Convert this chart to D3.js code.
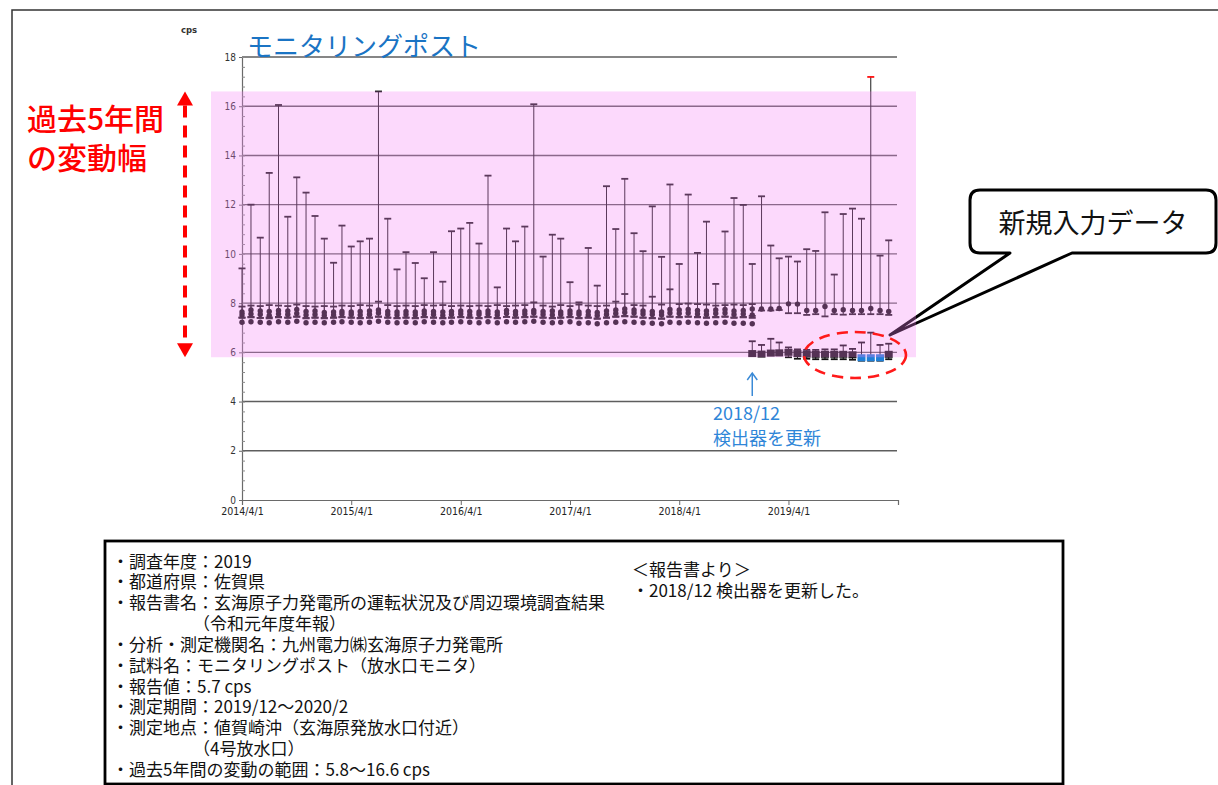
<!DOCTYPE html>
<html>
<head>
<meta charset="utf-8">
<script src="https://cdn.jsdelivr.net/npm/d3@7"></script>
<style>
  html, body { margin: 0; padding: 0; background: #fff; }
  svg { display: block; }
</style>
</head>
<body>
<svg id="chart" width="1218" height="785"></svg>
<script>
// ---------- data ----------
// monthly records, April 2014 through March 2020 (72 months)
const firstMonth = new Date(2014, 3, 1);
const endMonth = new Date(2020, 3, 1);

// monitoring post (main): monthly max / mean / min, cps
const maxMain = [9.41,12.00,10.66,13.29,16.05,11.51,13.11,12.49,11.54,10.62,9.64,11.15,10.30,10.51,10.62,16.60,11.43,9.37,10.07,
  9.63,9.01,10.07,8.87,10.92,11.03,11.26,10.42,13.18,8.64,11.03,10.51,11.11,16.08,9.89,10.78,10.62,8.85,
  8.03,10.24,8.71,12.75,11.01,13.05,10.84,10.11,11.93,9.88,12.82,9.59,12.41,10.04,11.31,8.78,10.91,12.27,
  11.99,9.59,12.34,10.34,9.82,9.89,9.69,10.19,10.12,11.69,9.16,11.62,11.84,11.43,17.19,9.93,10.55];
const meanMain = [7.64,7.72,7.68,7.66,7.70,7.68,7.74,7.66,7.68,7.62,7.64,7.66,7.64,7.66,7.68,7.72,7.66,7.64,7.66,
  7.64,7.68,7.66,7.64,7.66,7.68,7.66,7.64,7.68,7.64,7.70,7.66,7.68,7.70,7.66,7.68,7.64,7.68,
  7.64,7.66,7.62,7.68,7.72,7.76,7.72,7.68,7.66,7.64,7.74,7.72,7.74,7.70,7.68,7.72,7.74,7.68,
  7.70,7.76,7.76,7.76,7.78,7.97,7.96,7.70,7.70,7.86,7.70,7.73,7.70,7.70,7.78,7.70,7.66];
const minMain = [7.42,7.44,7.40,7.42,7.44,7.42,7.46,7.40,7.42,7.40,7.42,7.44,7.42,7.40,7.42,7.46,7.42,7.40,7.42,
  7.40,7.44,7.42,7.40,7.42,7.44,7.42,7.40,7.44,7.40,7.44,7.42,7.44,7.46,7.42,7.40,7.42,7.44,
  7.40,7.42,7.38,7.42,7.46,7.48,7.46,7.42,7.40,7.38,7.46,7.44,7.46,7.44,7.42,7.44,7.46,7.42,
  7.44,7.48,7.70,7.70,7.72,7.59,7.59,7.52,7.55,7.46,7.55,7.53,7.55,7.55,7.55,7.55,7.52];

// second channel, April 2014 - December 2018 (57 months)
const maxSub = [7.86,7.90,7.88,7.92,7.90,7.88,7.94,7.88,7.86,7.88,7.86,7.90,7.88,7.92,7.90,8.06,7.92,7.88,7.90,
  7.88,7.92,7.90,7.92,7.88,7.90,7.88,7.90,7.88,7.92,7.88,7.90,7.92,8.03,7.90,7.86,7.92,7.88,
  7.94,7.90,7.88,7.90,8.06,8.37,7.92,7.90,8.26,7.94,8.56,7.96,7.98,7.96,7.94,7.90,7.92,7.94,7.92,7.96];
const meanSub = [7.52,7.56,7.54,7.50,7.56,7.54,7.58,7.52,7.54,7.50,7.52,7.56,7.54,7.52,7.54,7.60,7.54,7.52,7.54,
  7.52,7.56,7.54,7.50,7.54,7.56,7.52,7.54,7.56,7.52,7.58,7.54,7.56,7.60,7.54,7.52,7.54,7.56,
  7.54,7.52,7.50,7.54,7.58,7.62,7.60,7.56,7.54,7.52,7.60,7.58,7.60,7.56,7.54,7.58,7.60,7.54,7.56,7.52];
const minSub = [7.40,7.42,7.40,7.38,7.42,7.40,7.44,7.38,7.40,7.38,7.40,7.42,7.40,7.38,7.40,7.44,7.40,7.38,7.40,
  7.38,7.42,7.40,7.38,7.40,7.42,7.40,7.38,7.42,7.38,7.44,7.40,7.42,7.44,7.40,7.38,7.40,7.42,
  7.38,7.40,7.36,7.40,7.44,7.46,7.44,7.40,7.38,7.36,7.44,7.42,7.44,7.42,7.40,7.42,7.44,7.40,7.42,7.40];
// third channel mean, April 2014 - December 2018
const meanThird = [7.22,7.24,7.22,7.20,7.24,7.22,7.26,7.20,7.22,7.20,7.22,7.24,7.22,7.20,7.22,7.26,7.22,7.20,7.22,
  7.20,7.24,7.22,7.20,7.22,7.24,7.22,7.20,7.24,7.20,7.24,7.22,7.24,7.26,7.22,7.20,7.22,7.24,
  7.18,7.20,7.16,7.20,7.22,7.24,7.22,7.20,7.18,7.16,7.22,7.20,7.22,7.20,7.18,7.20,7.22,7.18,7.18,7.16];

// new detector, December 2018 - March 2020 (16 months)
const newStart = new Date(2018, 11, 1);
const newMax  = [6.45,6.30,6.55,6.40,6.20,6.12,6.10,6.10,6.12,6.12,6.28,6.14,6.40,6.80,6.30,6.35];
const newMean = [5.95,5.93,5.97,5.98,6.00,5.95,5.93,5.92,5.92,5.92,5.92,5.90,5.78,5.78,5.78,5.92];
const newMin  = [5.86,5.84,5.88,5.88,5.80,5.74,5.74,5.72,5.72,5.72,5.72,5.70,5.66,5.66,5.66,5.72];
const newInputMonths = ["2019-12", "2020-01", "2020-02"];

// past five-year range, cps
const pastRange = [5.8, 16.6];

// axis ticks
const yTicks = [0, 2, 4, 6, 8, 10, 12, 14, 16, 18];
const xTickLabels = ["2014/4/1", "2015/4/1", "2016/4/1", "2017/4/1", "2018/4/1", "2019/4/1"];

// info panel
const infoLines = [
  { t: "・調査年度：2019", indent: false },
  { t: "・都道府県：佐賀県", indent: false },
  { t: "・報告書名：玄海原子力発電所の運転状況及び周辺環境調査結果", indent: false },
  { t: "（令和元年度年報）", indent: true },
  { t: "・分析・測定機関名：九州電力㈱玄海原子力発電所", indent: false },
  { t: "・試料名：モニタリングポスト（放水口モニタ）", indent: false },
  { t: "・報告値：5.7 cps", indent: false },
  { t: "・測定期間：2019/12～2020/2", indent: false },
  { t: "・測定地点：値賀崎沖（玄海原発放水口付近）", indent: false },
  { t: "（4号放水口）", indent: true },
  { t: "・過去5年間の変動の範囲：5.8～16.6 cps", indent: false }
];
const reportNotes = ["＜報告書より＞", "・2018/12 検出器を更新した。"];

// ---------- drawing ----------
const JP = "'Noto Sans CJK JP', 'Noto Sans', sans-serif";
const COND = "'DejaVu Sans Condensed', 'DejaVu Sans', sans-serif";
const svg = d3.select("#chart");

svg.append("rect").attr("width", 1218).attr("height", 785).attr("fill", "#fff");
// page frame
svg.append("path").attr("d", "M12,786 V10 H1218")
  .attr("fill", "none").attr("stroke", "#333").attr("stroke-width", 1.5);

const x = d3.scaleTime().domain([firstMonth, endMonth]).range([242, 898]);
const y = d3.scaleLinear().domain([0, 18]).range([500, 57]);
const months = d3.timeMonth.range(firstMonth, endMonth);
const fmtMonth = d3.timeFormat("%Y-%m");

// gridlines
svg.append("g").selectAll("line").data(yTicks.filter(v => v > 0)).join("line")
  .attr("x1", 242).attr("x2", 897)
  .attr("y1", d => y(d)).attr("y2", d => y(d))
  .attr("stroke", "#5e5e5e").attr("stroke-width", 1.4);

// y axis with minor ticks
const gy = svg.append("g").attr("transform", "translate(242,0)")
  .call(d3.axisLeft(y).tickValues(yTicks).tickSize(3).tickPadding(3).tickSizeOuter(0));
gy.select(".domain").attr("stroke", "#6a6a6a").attr("stroke-width", 1.2);
gy.selectAll(".tick line").attr("stroke", "#6a6a6a");
gy.selectAll("text").attr("font-family", COND).attr("font-size", 10).attr("fill", "#333");
const gyMinor = svg.append("g").attr("transform", "translate(242,0)")
  .call(d3.axisRight(y).tickValues(d3.range(0, 18.001, 0.4)).tickSize(3).tickFormat(""));
gyMinor.select(".domain").remove();
gyMinor.selectAll(".tick line").attr("stroke", "#8a8a8a");

// x axis
const yearTicks = xTickLabels.map(s => d3.timeParse("%Y/%m/%d")(s));
const gx = svg.append("g").attr("transform", "translate(0,500)")
  .call(d3.axisBottom(x).tickValues(yearTicks).tickFormat((d, i) => xTickLabels[i])
    .tickSize(5).tickSizeOuter(5).tickPadding(3));
gx.select(".domain").attr("stroke", "#6a6a6a").attr("stroke-width", 1.2);
gx.selectAll(".tick line").attr("stroke", "#6a6a6a");
gx.selectAll("text").attr("font-family", COND).attr("font-size", 10.5).attr("fill", "#222");

// unit label and title
svg.append("text").attr("x", 181).attr("y", 30).attr("dominant-baseline", "central")
  .attr("font-family", "'DejaVu Sans', sans-serif").attr("font-size", 8.5).attr("font-weight", "bold")
  .attr("fill", "#333").text("cps");
svg.append("text").attr("x", 247).attr("y", 44).attr("dominant-baseline", "central")
  .attr("font-family", JP).attr("font-size", 26).attr("fill", "#1a74c4").text("モニタリングポスト");

// ---------- marks ----------
const marks = svg.append("g");
const CAP = 7;
const DOT = 2.7;

function rangeBars(g, data, color) {
  g.selectAll(null).data(data).join("line")
    .attr("x1", d => x(d.date)).attr("x2", d => x(d.date))
    .attr("y1", d => y(d.lo)).attr("y2", d => y(d.hi))
    .attr("stroke", color).attr("stroke-width", 1);
  g.selectAll(null).data(data.flatMap(d => [
      { date: d.date, v: d.hi, over: d.hi > pastRange[1] },
      { date: d.date, v: d.lo, over: false }]))
    .join("line")
    .attr("x1", d => x(d.date) - CAP / 2).attr("x2", d => x(d.date) + CAP / 2)
    .attr("y1", d => y(d.v)).attr("y2", d => y(d.v))
    .attr("stroke", d => d.over ? "#ff1010" : color).attr("stroke-width", 1.8);
}
function dots(g, data, color) {
  g.selectAll(null).data(data).join("circle")
    .attr("cx", d => x(d.date)).attr("cy", d => y(d.v)).attr("r", DOT).attr("fill", color);
}

const oldMonths = months.slice(0, meanSub.length);
const subData = oldMonths.map((m, i) => ({ date: m, lo: minSub[i], hi: maxSub[i], v: meanSub[i] }));
const thirdData = oldMonths.map((m, i) => ({ date: m, v: meanThird[i] }));
const mainData = months.map((m, i) => ({ date: m, lo: minMain[i], hi: maxMain[i], v: meanMain[i] }));

rangeBars(marks.append("g"), subData, "#1a1a1a");
rangeBars(marks.append("g"), mainData, "#1a1a1a");
dots(marks.append("g"), thirdData, "#111");
dots(marks.append("g"), subData, "#111");
dots(marks.append("g"), mainData, "#111");

// new detector series
const newMonths = d3.timeMonth.range(newStart, endMonth);
const newData = newMonths.map((m, i) => ({ date: m, lo: newMin[i], hi: newMax[i], v: newMean[i],
  fresh: newInputMonths.includes(fmtMonth(m)) }));
const gNew = marks.append("g");
rangeBars(gNew, newData, "#111");
gNew.selectAll("rect").data(newData).join("rect")
  .attr("x", d => x(d.date) - 4).attr("y", d => y(d.v) - 3.5)
  .attr("width", 8).attr("height", 7)
  .attr("fill", d => d.fresh ? "#1f7fd6" : "#111");

// callout bubble
svg.append("path")
  .attr("d", "M980,190 H1206 Q1216,190 1216,200 V243 Q1216,253 1206,253 H1072 L890,335 L1010,253 H980 Q970,253 970,243 V200 Q970,190 980,190 Z")
  .attr("fill", "#fff").attr("stroke", "#000").attr("stroke-width", 3).attr("stroke-linejoin", "round");
svg.append("text").attr("x", 1093).attr("y", 221).attr("text-anchor", "middle")
  .attr("dominant-baseline", "central").attr("font-family", JP).attr("font-size", 27)
  .attr("fill", "#111").text("新規入力データ");

// translucent band for the past five-year range
svg.append("rect")
  .attr("x", 211).attr("width", 916 - 211)
  .attr("y", y(pastRange[1])).attr("height", y(pastRange[0]) - y(pastRange[1]))
  .attr("fill", "rgb(245,128,245)").attr("fill-opacity", 0.3);

// dashed ellipse around the newly entered months
svg.append("ellipse").attr("cx", 855).attr("cy", 355).attr("rx", 51).attr("ry", 23)
  .attr("fill", "none").attr("stroke", "#ff1a1a").attr("stroke-width", 2.6)
  .attr("stroke-dasharray", "11,7");

// red double-headed dashed arrow with its label
svg.append("line").attr("x1", 185).attr("x2", 185).attr("y1", y(pastRange[1]) + 14).attr("y2", y(pastRange[0]) - 14)
  .attr("stroke", "#ff0000").attr("stroke-width", 4).attr("stroke-dasharray", "12,8");
svg.append("path")
  .attr("d", `M185,${y(pastRange[1])} L177,${y(pastRange[1]) + 14} L193,${y(pastRange[1]) + 14} Z`)
  .attr("fill", "#ff0000");
svg.append("path")
  .attr("d", `M185,${y(pastRange[0])} L177,${y(pastRange[0]) - 14} L193,${y(pastRange[0]) - 14} Z`)
  .attr("fill", "#ff0000");
svg.append("text").attr("x", 27).attr("y", 117).attr("dominant-baseline", "central")
  .attr("font-family", JP).attr("font-size", 30).attr("font-weight", 500).attr("fill", "#ff0000")
  .text("過去5年間");
svg.append("text").attr("x", 27).attr("y", 156).attr("dominant-baseline", "central")
  .attr("font-family", JP).attr("font-size", 30).attr("font-weight", 500).attr("fill", "#ff0000")
  .text("の変動幅");

// detector replacement note
const ax = x(newStart);
svg.append("line").attr("x1", ax).attr("x2", ax).attr("y1", 396).attr("y2", 373)
  .attr("stroke", "#3b8ad6").attr("stroke-width", 1.5);
svg.append("path").attr("d", `M${ax - 5},380 L${ax},373 L${ax + 5},380`)
  .attr("fill", "none").attr("stroke", "#3b8ad6").attr("stroke-width", 1.5);
svg.append("text").attr("x", 713).attr("y", 412).attr("dominant-baseline", "central")
  .attr("font-family", JP).attr("font-size", 18).attr("fill", "#2f86d8").text("2018/12");
svg.append("text").attr("x", 713).attr("y", 437).attr("dominant-baseline", "central")
  .attr("font-family", JP).attr("font-size", 18).attr("fill", "#2f86d8").text("検出器を更新");

// ---------- info panel ----------
svg.append("rect").attr("x", 105).attr("y", 541).attr("width", 958).attr("height", 243)
  .attr("fill", "#fff").attr("stroke", "#000").attr("stroke-width", 2.8);
svg.append("g").selectAll("text").data(infoLines).join("text")
  .attr("x", d => d.indent ? 193 : 112)
  .attr("y", (d, i) => 560 + i * 20.85)
  .attr("dominant-baseline", "central")
  .attr("font-family", JP).attr("font-size", 17).attr("fill", "#111")
  .text(d => d.t);
svg.append("g").selectAll("text").data(reportNotes).join("text")
  .attr("x", 632)
  .attr("y", (d, i) => 568 + i * 21.5)
  .attr("dominant-baseline", "central")
  .attr("font-family", JP).attr("font-size", 17).attr("fill", "#111")
  .text(d => d);
</script>
</body>
</html>
